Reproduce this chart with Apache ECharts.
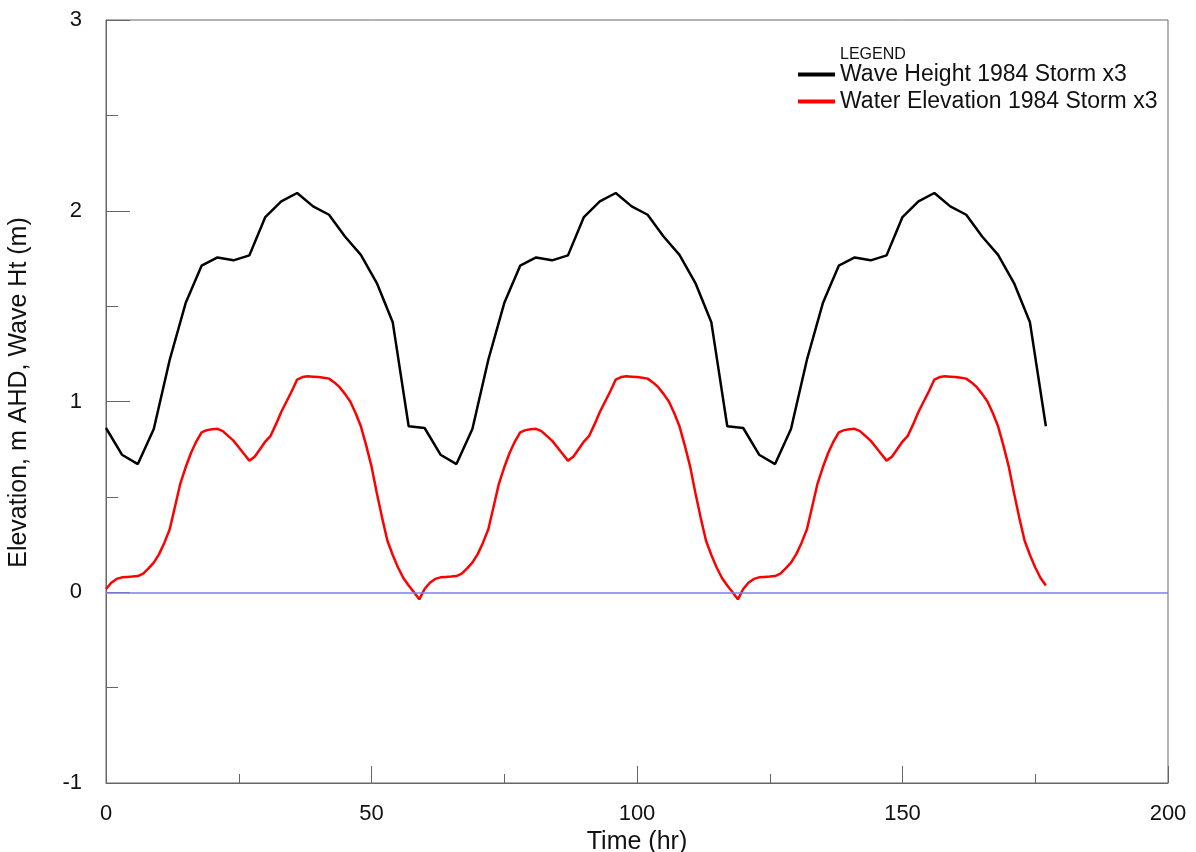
<!DOCTYPE html>
<html>
<head>
<meta charset="utf-8">
<script src="https://cdn.jsdelivr.net/npm/echarts@6/dist/echarts.min.js"></script>
<style>
  html, body { margin: 0; padding: 0; background: #fff; }
  #main { width: 1196px; height: 852px; }
</style>
</head>
<body>
<div id="main"></div>
<script>
// wave height, read every 3 hr
var waveTime = [0, 3, 6, 9, 12, 15, 18, 21, 24, 27, 30, 33, 36, 39, 42, 45, 48, 51, 54, 57,
  60, 63, 66, 69, 72, 75, 78, 81, 84, 87, 90, 93, 96, 99, 102, 105, 108, 111, 114, 117,
  120, 123, 126, 129, 132, 135, 138, 141, 144, 147, 150, 153, 156, 159, 162, 165, 168, 171, 174, 177];
var waveHeight = [0.861, 0.721, 0.672, 0.856, 1.219, 1.516, 1.712, 1.755, 1.740, 1.766, 1.967, 2.049, 2.093, 2.023, 1.979, 1.865, 1.769, 1.621, 1.415, 0.870,
  0.861, 0.721, 0.672, 0.856, 1.219, 1.516, 1.712, 1.755, 1.740, 1.766, 1.967, 2.049, 2.093, 2.023, 1.979, 1.865, 1.769, 1.621, 1.415, 0.870,
  0.861, 0.721, 0.672, 0.856, 1.219, 1.516, 1.712, 1.755, 1.740, 1.766, 1.967, 2.049, 2.093, 2.023, 1.979, 1.865, 1.769, 1.621, 1.415, 0.870];

// water elevation, read hourly
var waterTime = [0, 1, 2, 3, 4, 5, 6, 7, 8, 9, 10, 11, 12, 13, 14, 15, 16, 17, 18, 19,
  20, 21, 22, 23, 24, 25, 26, 27, 28, 29, 30, 31, 32, 33, 34, 35, 36, 37, 38, 39,
  40, 41, 42, 43, 44, 45, 46, 47, 48, 49, 50, 51, 52, 53, 54, 55, 56, 57, 58, 59,
  60, 61, 62, 63, 64, 65, 66, 67, 68, 69, 70, 71, 72, 73, 74, 75, 76, 77, 78, 79,
  80, 81, 82, 83, 84, 85, 86, 87, 88, 89, 90, 91, 92, 93, 94, 95, 96, 97, 98, 99,
  100, 101, 102, 103, 104, 105, 106, 107, 108, 109, 110, 111, 112, 113, 114, 115, 116, 117, 118, 119,
  120, 121, 122, 123, 124, 125, 126, 127, 128, 129, 130, 131, 132, 133, 134, 135, 136, 137, 138, 139,
  140, 141, 142, 143, 144, 145, 146, 147, 148, 149, 150, 151, 152, 153, 154, 155, 156, 157, 158, 159,
  160, 161, 162, 163, 164, 165, 166, 167, 168, 169, 170, 171, 172, 173, 174, 175, 176, 177];
var waterElev = [
  0.017, 0.05, 0.07, 0.078, 0.08, 0.082, 0.085, 0.098, 0.125, 0.155,
  0.2, 0.26, 0.33, 0.45, 0.57, 0.655, 0.73, 0.79, 0.838, 0.85,
  0.855, 0.857, 0.845, 0.82, 0.795, 0.76, 0.725, 0.69, 0.71, 0.75,
  0.79, 0.82, 0.88, 0.945, 1.0, 1.055, 1.115, 1.128, 1.132, 1.13,
  1.128, 1.125, 1.12, 1.1, 1.075, 1.04, 1.0, 0.94, 0.87, 0.77,
  0.66, 0.52, 0.39, 0.27, 0.195, 0.13, 0.075, 0.035, 0.0, -0.037,
  0.017, 0.05, 0.07, 0.078, 0.08, 0.082, 0.085, 0.098, 0.125, 0.155,
  0.2, 0.26, 0.33, 0.45, 0.57, 0.655, 0.73, 0.79, 0.838, 0.85,
  0.855, 0.857, 0.845, 0.82, 0.795, 0.76, 0.725, 0.69, 0.71, 0.75,
  0.79, 0.82, 0.88, 0.945, 1.0, 1.055, 1.115, 1.128, 1.132, 1.13,
  1.128, 1.125, 1.12, 1.1, 1.075, 1.04, 1.0, 0.94, 0.87, 0.77,
  0.66, 0.52, 0.39, 0.27, 0.195, 0.13, 0.075, 0.035, 0.0, -0.037,
  0.017, 0.05, 0.07, 0.078, 0.08, 0.082, 0.085, 0.098, 0.125, 0.155,
  0.2, 0.26, 0.33, 0.45, 0.57, 0.655, 0.73, 0.79, 0.838, 0.85,
  0.855, 0.857, 0.845, 0.82, 0.795, 0.76, 0.725, 0.69, 0.71, 0.75,
  0.79, 0.82, 0.88, 0.945, 1.0, 1.055, 1.115, 1.128, 1.132, 1.13,
  1.128, 1.125, 1.12, 1.1, 1.075, 1.04, 1.0, 0.94, 0.87, 0.77,
  0.66, 0.52, 0.39, 0.27, 0.195, 0.13, 0.075, 0.035];

var seriesNames = ['Wave Height 1984 Storm x3', 'Water Elevation 1984 Storm x3'];

var font = 'Liberation Sans, Arial, sans-serif';
var myChart = echarts.init(document.getElementById('main'));

var option = {
  animation: false,
  backgroundColor: '#fff',
  textStyle: { fontFamily: font },
  grid: {
    left: 106,
    right: 28,
    top: 20,
    bottom: 69,
    outerBoundsMode: 'none',
    show: true,
    borderColor: '#666',
    borderWidth: 1
  },
  graphic: [
    {
      type: 'text',
      left: 840,
      top: 47,
      style: { text: 'LEGEND', font: '16px ' + font, fill: '#111' }
    }
  ],
  legend: {
    orient: 'vertical',
    left: 798,
    top: 61,
    padding: 0,
    itemGap: 0,
    itemWidth: 37,
    itemHeight: 4,
    icon: 'rect',
    textStyle: { fontSize: 23, lineHeight: 27, color: '#111', fontFamily: font },
    data: seriesNames
  },
  xAxis: {
    type: 'value',
    min: 0,
    max: 200,
    interval: 50,
    name: 'Time (hr)',
    nameLocation: 'middle',
    nameGap: 44,
    nameTextStyle: { fontSize: 25, color: '#111', fontFamily: font },
    axisLine: { onZero: false, lineStyle: { color: '#666', width: 1 } },
    axisTick: { inside: true, length: 17, lineStyle: { color: '#666' } },
    minorTick: { show: true, splitNumber: 2, length: 9, lineStyle: { color: '#666' } },
    splitLine: { show: false },
    axisLabel: { fontSize: 22, color: '#111', margin: 20, fontFamily: font }
  },
  yAxis: {
    type: 'value',
    min: -1,
    max: 3,
    interval: 1,
    name: 'Elevation, m AHD, Wave Ht (m)',
    nameLocation: 'middle',
    nameGap: 74,
    nameTextStyle: { fontSize: 25, color: '#111', fontFamily: font, padding: [0, 0, 0, 18] },
    axisLine: { show: true, onZero: false, lineStyle: { color: '#666', width: 1 } },
    axisTick: { show: true, inside: true, length: 24, lineStyle: { color: '#666' } },
    minorTick: { show: true, splitNumber: 2, length: 12, lineStyle: { color: '#666' } },
    splitLine: { show: false },
    axisLabel: { fontSize: 22, color: '#111', margin: 24, fontFamily: font }
  },
  series: [
    {
      name: seriesNames[0],
      type: 'line',
      showSymbol: false,
      symbol: 'none',
      color: '#000',
      lineStyle: { color: '#000', width: 2.5 },
      data: waveTime.map(function (t, i) { return [t, waveHeight[i]]; })
    },
    {
      name: seriesNames[1],
      type: 'line',
      showSymbol: false,
      symbol: 'none',
      color: '#ff0000',
      lineStyle: { color: '#ff0000', width: 2.5 },
      markLine: {
        silent: true,
        symbol: ['none', 'none'],
        label: { show: false },
        lineStyle: { type: 'solid', color: '#7b7bf5', width: 1.5 },
        data: [{ yAxis: 0 }]
      },
      data: waterTime.map(function (t, i) { return [t, waterElev[i]]; })
    }
  ]
};
myChart.setOption(option);
</script>
</body>
</html>
